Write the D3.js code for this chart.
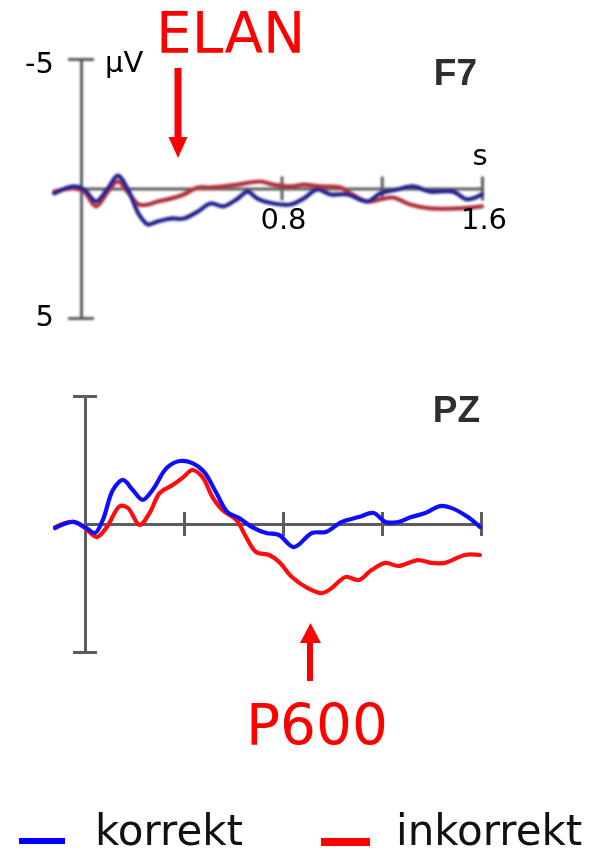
<!DOCTYPE html>
<html>
<head>
<meta charset="utf-8">
<script src="https://cdn.jsdelivr.net/npm/d3@7"></script>
<style>
  html, body { margin: 0; padding: 0; background: #fff; }
  svg { display: block; }
  text { font-family: "DejaVu Sans", Verdana, sans-serif; }
</style>
</head>
<body>
<svg id="chart" width="607" height="854"></svg>
<script>
// ERP grand averages: time in seconds, amplitude in microvolts (negative up)
const f7Korrekt = [
  [-0.107, 0.19], [-0.028, -0.08], [0.012, 0.04], [0.06, 0.50], [0.107, 0.0],
  [0.147, -0.50], [0.191, 0.12], [0.231, 1.00], [0.267, 1.39], [0.306, 1.27],
  [0.358, 1.16], [0.41, 1.16], [0.466, 0.89], [0.517, 0.58], [0.569, 0.69],
  [0.625, 0.39], [0.665, 0.12], [0.704, 0.39], [0.768, 0.58], [0.836, 0.62],
  [0.888, 0.39], [0.943, 0.04], [0.995, 0.23], [1.063, 0.23], [1.142, 0.50],
  [1.194, 0.19], [1.262, 0.04], [1.325, -0.08], [1.393, 0.12], [1.485, 0.12],
  [1.540, 0.42], [1.6, 0.23]
];
const f7Inkorrekt = [
  [-0.107, 0.12], [-0.028, 0.0], [0.012, 0.12], [0.06, 0.69], [0.107, 0.12],
  [0.147, -0.27], [0.191, 0.19], [0.231, 0.62], [0.267, 0.62], [0.306, 0.50],
  [0.358, 0.39], [0.41, 0.23], [0.466, -0.04], [0.517, -0.04], [0.569, -0.08],
  [0.625, -0.15], [0.716, -0.27], [0.768, -0.15], [0.836, -0.08], [0.888, -0.15],
  [0.955, -0.08], [1.035, -0.04], [1.075, 0.19], [1.142, 0.50], [1.194, 0.42],
  [1.246, 0.35], [1.313, 0.62], [1.393, 0.77], [1.512, 0.77], [1.6, 0.69]
];
const pzKorrekt = [
  [-0.121, 0.16], [-0.048, -0.08], [0.0, 0.12], [0.04, 0.35], [0.072, -0.16],
  [0.113, -1.33], [0.153, -1.72], [0.193, -1.33], [0.233, -0.94], [0.273, -1.33],
  [0.330, -2.19], [0.382, -2.46], [0.434, -2.38], [0.482, -2.03], [0.531, -1.21],
  [0.575, -0.47], [0.623, -0.23], [0.675, 0.12], [0.732, 0.35], [0.784, 0.43],
  [0.844, 0.90], [0.917, 0.35], [0.973, 0.31], [1.037, -0.08], [1.106, -0.27],
  [1.166, -0.43], [1.214, -0.08], [1.266, -0.08], [1.318, -0.27], [1.375, -0.43],
  [1.435, -0.70], [1.479, -0.63], [1.547, -0.27], [1.596, 0.12]
];
const pzInkorrekt = [
  [-0.121, 0.12], [-0.048, -0.08], [0.0, 0.16], [0.048, 0.51], [0.088, 0.12],
  [0.141, -0.70], [0.173, -0.63], [0.221, 0.04], [0.261, -0.43], [0.302, -1.21],
  [0.354, -1.52], [0.394, -1.80], [0.434, -2.11], [0.474, -1.84], [0.515, -1.05],
  [0.555, -0.55], [0.611, -0.16], [0.651, 0.51], [0.691, 1.09], [0.744, 1.21],
  [0.784, 1.48], [0.836, 2.07], [0.892, 2.46], [0.957, 2.70], [0.997, 2.50],
  [1.053, 2.07], [1.106, 2.19], [1.158, 1.80], [1.214, 1.52], [1.266, 1.64],
  [1.347, 1.41], [1.399, 1.52], [1.455, 1.52], [1.535, 1.21], [1.596, 1.21]
];

const timeTicksF7 = [0.8, 1.2, 1.6];
const timeTicksPZ = [0.4, 0.8, 1.2, 1.6];
const timeLabels = [[0.8, "0.8"], [1.6, "1.6"]];
const voltTicks = [-5, 5];
const legendLabels = ["korrekt", "inkorrekt"];

const svg = d3.select("#chart");
const defs = svg.append("defs");
defs.append("filter").attr("id", "softA")
  .attr("x", "-10%").attr("y", "-10%").attr("width", "120%").attr("height", "120%")
  .append("feGaussianBlur").attr("stdDeviation", 0.9);
defs.append("filter").attr("id", "softB")
  .attr("x", "-10%").attr("y", "-10%").attr("width", "120%").attr("height", "120%")
  .append("feGaussianBlur").attr("stdDeviation", 0.6);
defs.append("filter").attr("id", "softT")
  .attr("x", "-10%").attr("y", "-10%").attr("width", "120%").attr("height", "120%")
  .append("feGaussianBlur").attr("stdDeviation", 0.5);

const axisColor = "#5c5c5c";

function panel(cfg) {
  const x = d3.scaleLinear().domain([0, 1.6]).range(cfg.xRange);
  const y = d3.scaleLinear().domain([-5, 5]).range(cfg.yRange);
  const g = svg.append("g");
  const plot = g.append("g").attr("filter", `url(#${cfg.filter})`);

  // vertical amplitude axis with end caps
  const yAxis = d3.axisLeft(y).tickValues(voltTicks).tickSizeInner(cfg.cap).tickSizeOuter(0).tickFormat("");
  const ya = plot.append("g").attr("transform", `translate(${x(0)},0)`).call(yAxis);
  ya.select(".domain").attr("stroke", axisColor).attr("stroke-width", 3);
  ya.selectAll(".tick line").attr("x2", cfg.cap).attr("x1", -cfg.cap)
    .attr("stroke", axisColor).attr("stroke-width", 3);

  // horizontal time axis through zero with crossing ticks
  const xAxis = d3.axisBottom(x).tickValues(cfg.ticks).tickSizeInner(12).tickSizeOuter(0).tickFormat("");
  const xa = plot.append("g").attr("transform", `translate(0,${y(0)})`).call(xAxis);
  xa.select(".domain").attr("stroke", axisColor).attr("stroke-width", 3);
  xa.selectAll(".tick line").attr("y1", -12).attr("stroke", axisColor).attr("stroke-width", 3);

  const line = d3.line().x(d => x(d[0])).y(d => y(d[1])).curve(d3.curveCatmullRom.alpha(0.5));
  plot.append("path").datum(cfg.red).attr("d", line)
    .attr("fill", "none").attr("stroke", cfg.redColor).attr("stroke-width", cfg.lw)
    .attr("stroke-linejoin", "round").attr("stroke-linecap", "round");
  plot.append("path").datum(cfg.blue).attr("d", line)
    .attr("fill", "none").attr("stroke", cfg.blueColor).attr("stroke-width", cfg.lw)
    .attr("stroke-linejoin", "round").attr("stroke-linecap", "round");

  // electrode name
  g.append("text").attr("x", cfg.nameX).attr("y", cfg.nameY)
    .attr("text-anchor", "end").attr("filter", "url(#softT)")
    .style("font-family", "'Liberation Sans', Arial, sans-serif")
    .style("font-weight", "bold").style("font-size", "37px")
    .attr("fill", "#2e2e2e").text(cfg.name);
  return { x, y, g };
}

const f7Panel = panel({
  xRange: [81, 482], yRange: [59, 318], ticks: timeTicksF7, cap: 13,
  red: f7Inkorrekt, blue: f7Korrekt, redColor: "#b0303a", blueColor: "#24248e",
  lw: 4.2, filter: "softA", name: "F7", nameX: 477, nameY: 85
});
const pzPanel = panel({
  xRange: [85, 481], yRange: [396, 652], ticks: timeTicksPZ, cap: 12,
  red: pzInkorrekt, blue: pzKorrekt, redColor: "#ff1010", blueColor: "#1010ff",
  lw: 4.2, filter: "softB", name: "PZ", nameX: 480, nameY: 422
});

// axis labels of the F7 panel
const labelSize = "29px";
f7Panel.g.append("text").attr("x", 54).attr("y", 73).attr("text-anchor", "end")
  .style("font-size", labelSize).text(String(voltTicks[0]));
f7Panel.g.append("text").attr("x", 54).attr("y", 326).attr("text-anchor", "end")
  .style("font-size", labelSize).text(String(voltTicks[1]));
f7Panel.g.append("text").attr("x", 105).attr("y", 72)
  .style("font-size", labelSize).text("µV");
f7Panel.g.append("text").attr("x", f7Panel.x(1.6) - 2).attr("y", 165).attr("text-anchor", "middle")
  .style("font-size", labelSize).text("s");
timeLabels.forEach(([t, lab]) => {
  f7Panel.g.append("text").attr("x", f7Panel.x(t) + 2).attr("y", 229).attr("text-anchor", "middle")
    .style("font-size", labelSize).text(lab);
});

// component annotations
const red = "#ff0000";
svg.append("text").attr("x", 156).attr("y", 53).attr("fill", red)
  .style("font-size", "56.5px").text("ELAN");
svg.append("rect").attr("x", 174.5).attr("y", 68).attr("width", 7).attr("height", 72).attr("fill", red);
svg.append("path").attr("d", "M168.5,137 L187.5,137 L178,158 Z").attr("fill", red);

svg.append("text").attr("x", 246).attr("y", 745).attr("fill", red)
  .style("font-size", "56.5px").text("P600");
svg.append("rect").attr("x", 307).attr("y", 640).attr("width", 6).attr("height", 41).attr("fill", red);
svg.append("path").attr("d", "M300,643 L321,643 L310.5,623 Z").attr("fill", red);

// legend
const legend = [
  { label: legendLabels[0], color: "#0000ff", x: 19, w: 46, h: 6, tx: 95 },
  { label: legendLabels[1], color: "#ff0000", x: 321, w: 49, h: 8, tx: 396 }
];
const lg = svg.append("g");
lg.selectAll("rect").data(legend).join("rect")
  .attr("x", d => d.x).attr("y", 838).attr("width", d => d.w).attr("height", d => d.h)
  .attr("fill", d => d.color);
lg.selectAll("text").data(legend).join("text")
  .attr("x", d => d.tx).attr("y", 845).style("font-size", "42px")
  .attr("fill", "#111").text(d => d.label);
</script>
</body>
</html>
